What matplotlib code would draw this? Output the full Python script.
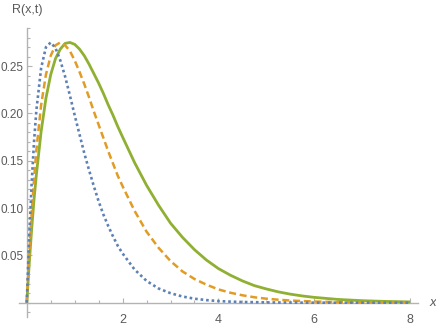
import matplotlib
matplotlib.use("Agg")
import matplotlib.pyplot as plt
from matplotlib.ticker import MultipleLocator, FixedLocator

# values
x = [0, 0.05, 0.1, 0.15, 0.2, 0.3, 0.4, 0.5, 0.6, 0.7, 0.8, 0.9, 1.0,
     1.1, 1.2, 1.3, 1.4, 1.5, 1.6, 1.7, 1.8, 1.9, 2.0,
     2.25, 2.5, 2.75, 3.0, 3.25, 3.5, 3.75, 4.0, 4.25, 4.5, 4.75, 5.0,
     5.25, 5.5, 5.75, 6.0, 6.5, 7.0, 7.5, 8.0]
r_blue = [0, 0.069, 0.124, 0.169, 0.203, 0.248, 0.270, 0.275, 0.269, 0.256, 0.239, 0.219, 0.198,
          0.178, 0.158, 0.140, 0.123, 0.107, 0.093, 0.081, 0.070, 0.060, 0.052,
          0.035, 0.023, 0.015, 0.010, 0.0065, 0.0042, 0.0027, 0.0017, 0.0011, 0.0007, 0.0005, 0.0003,
          0.0002, 0.0001, 0, 0, 0, 0, 0, 0]
r_orange = [0, 0.050, 0.093, 0.129, 0.161, 0.209, 0.241, 0.261, 0.272, 0.275, 0.272, 0.266, 0.256,
            0.244, 0.231, 0.217, 0.202, 0.188, 0.174, 0.160, 0.147, 0.134, 0.123,
            0.097, 0.075, 0.058, 0.044, 0.033, 0.025, 0.019, 0.014, 0.0105, 0.0078, 0.0057, 0.0042,
            0.0031, 0.0023, 0.0017, 0.0012, 0.0006, 0.0003, 0.0002, 0.0001]
r_green = [0, 0.040, 0.076, 0.108, 0.135, 0.181, 0.216, 0.241, 0.258, 0.268, 0.274, 0.275, 0.273,
           0.268, 0.261, 0.252, 0.242, 0.232, 0.221, 0.209, 0.198, 0.186, 0.175,
           0.148, 0.124, 0.103, 0.084, 0.069, 0.056, 0.045, 0.036, 0.029, 0.023, 0.018, 0.0145,
           0.0114, 0.009, 0.0071, 0.0056, 0.0034, 0.0021, 0.0013, 0.0008]

xticks = [2, 4, 6, 8]
yticks = [0.05, 0.10, 0.15, 0.20, 0.25]

plt.rcParams['font.family'] = ['Liberation Sans', 'DejaVu Sans']

fig = plt.figure(figsize=(4.36, 3.27), dpi=100)
ax = fig.add_axes([0.0427, 0.031, 0.9167, 0.8826])

axcol = '#b3b3b3'
txtcol = '#5a5a5a'

ax.plot(x, r_green, color='#8fb032', lw=2.0, solid_capstyle='butt', solid_joinstyle='round')
ax.plot(x, r_orange, color='#e19c24', lw=1.8, linestyle=(0, (2.8, 1.5)), dash_capstyle='butt')
ax.plot(x, r_blue, color='#5e81b5', lw=1.9, linestyle=(0, (1, 1.1)), dash_capstyle='butt')

ax.set_xlim(-0.17, 8.17)
ax.set_ylim(-0.015, 0.29)

ax.spines['left'].set_position(('data', 0))
ax.spines['bottom'].set_position(('data', 0))
ax.spines['right'].set_visible(False)
ax.spines['top'].set_visible(False)
for s in ['left', 'bottom']:
    ax.spines[s].set_color(axcol)
    ax.spines[s].set_linewidth(1.0)
    ax.spines[s].set_zorder(0)

ax.xaxis.set_major_locator(FixedLocator(xticks))
ax.yaxis.set_major_locator(FixedLocator(yticks))
ax.xaxis.set_minor_locator(MultipleLocator(0.5))
ax.yaxis.set_minor_locator(MultipleLocator(0.01))
ax.set_xticklabels([str(v) for v in xticks])
ax.set_yticklabels(['%.2f' % v for v in yticks])

ax.tick_params(which='both', direction='in', color=axcol, width=0.8,
               labelcolor=txtcol)
ax.tick_params(axis='x', labelsize=9, pad=8)
ax.tick_params(axis='y', labelsize=8.5, pad=2)
ax.tick_params(which='major', length=3.5)
ax.tick_params(which='minor', length=2)

ax.text(8.4, 0, 'x', style='italic', color=txtcol, fontsize=9.5,
        ha='left', va='center')
fig.text(27 / 436, 1 - 10 / 327, 'R(x,t)', color=txtcol, fontsize=9,
         ha='center', va='center')

fig.savefig('out.png', dpi=100)
